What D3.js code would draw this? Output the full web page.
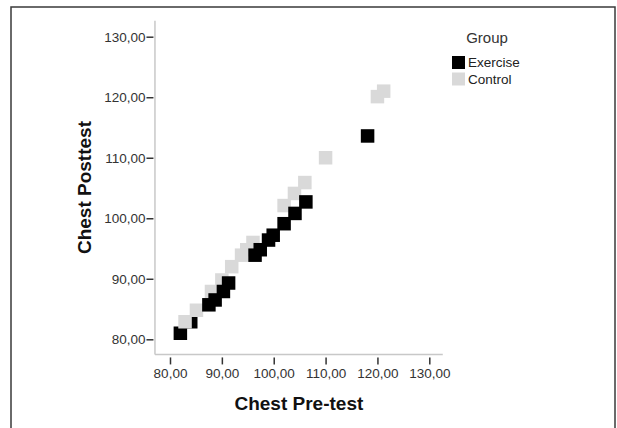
<!DOCTYPE html>
<html>
<head>
<meta charset="utf-8">
<script src="https://cdn.jsdelivr.net/npm/d3@7"></script>
<style>
  body { margin: 0; background: #fff; }
  svg { display: block; font-family: "Liberation Sans", Arial, sans-serif; }
</style>
</head>
<body>
<div id="chart"></div>
<script>
// values
const groups = ['Exercise', 'Control'];
const exercisePre  = [82, 84, 87.5, 88.7, 90.3, 91.3, 96.4, 97.4, 99, 99.9, 102, 104.1, 106.2, 118.1];
const exercisePost = [81, 82.9, 85.7, 86.5, 87.9, 89.3, 93.9, 94.8, 96.4, 97.2, 99.1, 100.8, 102.7, 113.6];
const controlPre   = [82.9, 85.1, 88, 90, 91.9, 93.8, 94.8, 96, 102, 104, 106, 110, 120, 121.2];
const controlPost  = [82.9, 84.8, 87.9, 89.8, 92, 93.9, 94.8, 96, 102.1, 104.1, 105.9, 110, 120.1, 121];
const tickValues = [80, 90, 100, 110, 120, 130];

const width = 617, height = 428;
const colors = { Exercise: '#000000', Control: '#d9d9d9' };
const markSize = 13.5;

const svg = d3.select('#chart').append('svg')
  .attr('width', width)
  .attr('height', height);

// outer frame
svg.append('rect')
  .attr('x', 11).attr('y', 7)
  .attr('width', 604).attr('height', 440)
  .attr('fill', 'none')
  .attr('stroke', '#3a3a3a')
  .attr('stroke-width', 1.5);

const x = d3.scaleLinear().domain([80, 130]).range([170, 429.3]);
const y = d3.scaleLinear().domain([80, 130]).range([339.3, 36.7]);
const xLo = 77.1, xHi = 132.6, yLo = 77.5, yHi = 132.65;

const fmt = d => d3.format('.2f')(d).replace('.', ',');

// axis frame lines (light gray)
svg.append('line')
  .attr('x1', x(xLo)).attr('x2', x(xLo))
  .attr('y1', y(yLo)).attr('y2', y(yHi))
  .attr('stroke', '#c8c8c8').attr('stroke-width', 1.5);
svg.append('line')
  .attr('x1', x(xLo)).attr('x2', x(xHi))
  .attr('y1', y(yLo)).attr('y2', y(yLo))
  .attr('stroke', '#c8c8c8').attr('stroke-width', 1.5);

const xAxis = svg.append('g')
  .attr('transform', `translate(0,${y(yLo) + 3})`)
  .call(d3.axisBottom(x).tickValues(tickValues).tickFormat(fmt).tickSize(7).tickPadding(4).tickSizeOuter(0));
const yAxis = svg.append('g')
  .attr('transform', `translate(${x(xLo) - 1.5},0)`)
  .call(d3.axisLeft(y).tickValues(tickValues).tickFormat(fmt).tickSize(7).tickPadding(1).tickSizeOuter(0));

[xAxis, yAxis].forEach(g => {
  g.select('.domain').remove();
  g.selectAll('.tick line').attr('stroke', '#333').attr('stroke-width', 1.5);
  g.selectAll('.tick text')
    .attr('fill', '#333')
    .style('font-size', '13.5px')
    .style('font-family', '"Liberation Sans", Arial, sans-serif');
});

// axis titles
svg.append('text')
  .attr('x', (x(xLo) + x(xHi)) / 2)
  .attr('y', 410)
  .attr('text-anchor', 'middle')
  .attr('font-weight', 'bold')
  .attr('font-size', 19)
  .attr('fill', '#111')
  .text('Chest Pre-test');

svg.append('text')
  .attr('transform', `translate(91,${(y(yLo) + y(yHi)) / 2}) rotate(-90)`)
  .attr('text-anchor', 'middle')
  .attr('font-weight', 'bold')
  .attr('font-size', 19)
  .attr('fill', '#111')
  .text('Chest Posttest');

// points
const controlData = controlPre.map((v, i) => ({ pre: v, post: controlPost[i], group: 'Control' }));
const exerciseData = exercisePre.map((v, i) => ({ pre: v, post: exercisePost[i], group: 'Exercise' }));
const points = exerciseData.slice(0, 2).concat(controlData, exerciseData.slice(2));

svg.append('g')
  .selectAll('rect')
  .data(points)
  .enter()
  .append('rect')
  .attr('x', d => x(d.pre) - markSize / 2)
  .attr('y', d => y(d.post) - markSize / 2)
  .attr('width', markSize)
  .attr('height', markSize)
  .attr('fill', d => colors[d.group]);

// legend
const legend = svg.append('g').attr('transform', 'translate(452,0)');
legend.append('text')
  .attr('x', 35).attr('y', 43)
  .attr('text-anchor', 'middle')
  .attr('font-size', 15)
  .attr('fill', '#333')
  .text('Group');

const items = legend.selectAll('g.item')
  .data(groups)
  .enter()
  .append('g')
  .attr('class', 'item')
  .attr('transform', (d, i) => `translate(0,${56 + i * 16.5})`);
items.append('rect')
  .attr('width', 13).attr('height', 13)
  .attr('fill', d => colors[d]);
items.append('text')
  .attr('x', 16).attr('y', 11)
  .attr('font-size', 13.5)
  .attr('fill', '#222')
  .text(d => d);
</script>
</body>
</html>
